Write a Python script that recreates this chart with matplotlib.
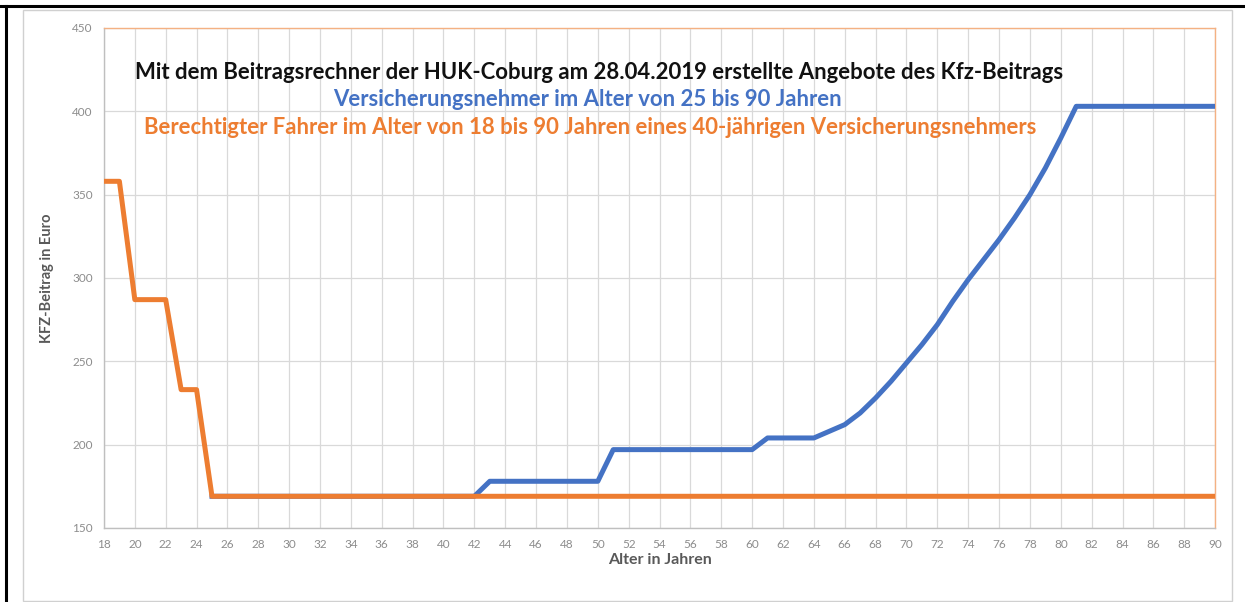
import numpy as np
import matplotlib
matplotlib.use('Agg')
import matplotlib.pyplot as plt
from matplotlib.lines import Line2D
from matplotlib.patches import Rectangle

plt.rcParams['font.family'] = ['Lato', 'DejaVu Sans']

# Berechtigter Fahrer, Alter 18..90 (orange)
fahrer_alter = list(range(18, 91))
fahrer_beitrag = [358, 358, 287, 287, 287, 233, 233] + [169] * 66

# Versicherungsnehmer, Alter 25..90 (blau)
vn_alter = list(range(25, 91))
vn_beitrag = ([169] * 18 +            # 25..42
              [178] * 8 +             # 43..50
              [197] * 10 +            # 51..60
              [204] * 4 +             # 61..64
              [208, 212, 219, 228, 238, 249, 260, 272, 286, 299,
               311, 323, 336, 350, 366, 384] +   # 65..80
              [403] * 10)             # 81..90

x_ticks = list(range(18, 91, 2))
y_ticks = [150, 200, 250, 300, 350, 400, 450]

titel = 'Mit dem Beitragsrechner der HUK-Coburg am 28.04.2019 erstellte Angebote des Kfz-Beitrags'
text_vn = 'Versicherungsnehmer im Alter von 25 bis 90 Jahren'
text_fahrer = 'Berechtigter Fahrer im Alter von 18 bis 90 Jahren eines 40-jährigen Versicherungsnehmers'

blau = '#4472C4'
orange = '#ED7D31'

fig = plt.figure(figsize=(12.45, 6.02), dpi=100)
ax = fig.add_axes([0.0835, 0.123, 0.8925, 0.8305])

ax.plot(vn_alter, vn_beitrag, color=blau, lw=3.6, solid_joinstyle='round', zorder=3)
ax.plot(fahrer_alter, fahrer_beitrag, color=orange, lw=3.6, solid_joinstyle='round', zorder=4)

ax.set_xlim(18, 90)
ax.set_ylim(150, 450)
ax.set_xticks(x_ticks)
ax.set_yticks(y_ticks)
ax.grid(True, color='#d9d9d9', lw=0.9)
ax.set_axisbelow(True)
ax.tick_params(length=0, labelsize=8.5, labelcolor='#8c8c8c', pad=8)

for s in ['top', 'right']:
    ax.spines[s].set_color('#f4b183')
    ax.spines[s].set_linewidth(1.0)
for s in ['left', 'bottom']:
    ax.spines[s].set_color('#bfbfbf')
    ax.spines[s].set_linewidth(1.0)

ax.set_xlabel('Alter in Jahren', fontsize=11.5, fontweight='bold', color='#595959', labelpad=2)
ax.set_ylabel('KFZ-Beitrag in Euro', fontsize=10.5, fontweight='bold', color='#595959', labelpad=13)

ax.text(0.446, 0.91, titel, transform=ax.transAxes, ha='center', va='center',
        fontsize=15.9, fontweight='bold', color='#111111')
ax.text(0.435, 0.856, text_vn, transform=ax.transAxes, ha='center', va='center',
        fontsize=15.9, fontweight='bold', color=blau)
ax.text(0.4375, 0.80, text_fahrer, transform=ax.transAxes, ha='center', va='center',
        fontsize=15.9, fontweight='bold', color=orange)

# Rahmen des Diagrammbereichs und des Bildes
fig.patches.append(Rectangle((23 / 1245, 0.002), (1232 - 23) / 1245, 1 - 10 / 602 - 0.002,
                             transform=fig.transFigure, fill=False, ec='#d0d0d0', lw=1.0))
fig.lines.append(Line2D([0, 1], [1 - 6 / 602, 1 - 6 / 602], transform=fig.transFigure,
                        color='black', lw=2.2))
fig.lines.append(Line2D([6 / 1245, 6 / 1245], [0, 1 - 6 / 602], transform=fig.transFigure,
                        color='black', lw=2.2))

fig.savefig('out.png', dpi=100)
